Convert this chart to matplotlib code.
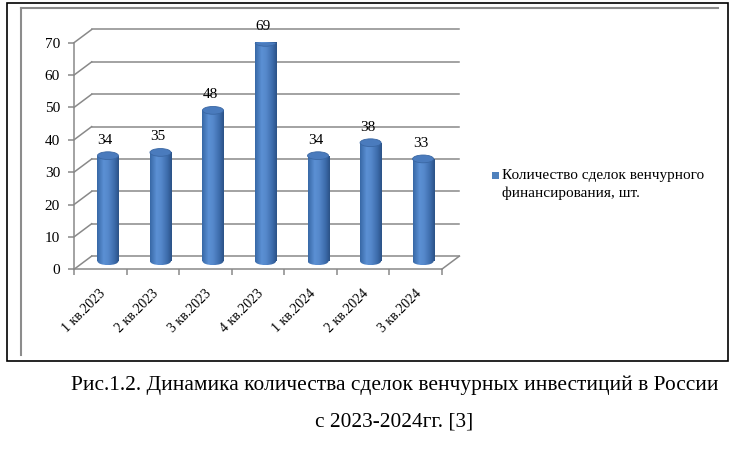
import numpy as np
import matplotlib
matplotlib.use('Agg')
import matplotlib.pyplot as plt
import matplotlib.transforms as mtransforms
from matplotlib.patches import Rectangle, Ellipse
from matplotlib.lines import Line2D
from matplotlib.colors import LinearSegmentedColormap

# data
quarters = ['1 кв.2023', '2 кв.2023', '3 кв.2023', '4 кв.2023',
            '1 кв.2024', '2 кв.2024', '3 кв.2024']
deals = [34, 35, 48, 69, 34, 38, 33]
y_ticks = [0, 10, 20, 30, 40, 50, 60, 70]
legend_lines = ['Количество сделок венчурного', 'финансирования, шт.']
caption_1 = 'Рис.1.2. Динамика количества сделок венчурных инвестиций в России'
caption_2 = 'с 2023-2024гг. [3]'

plt.rcParams['font.family'] = ['Liberation Serif', 'DejaVu Serif']

W, H = 730, 450
fig = plt.figure(figsize=(7.3, 4.5), dpi=100)


def fx(px):
    return px / W


def fy(py):
    return 1 - py / H


grid_c = '#898989'
n = len(quarters)
DX, DY = 0.337, 4.08       # fake depth of the 3d box
BW, EH = 0.40, 2.4          # cylinder width, cap height
XOFF, BASE, TOP_OFF = 0.146, 2.5, 1.1

ax = fig.add_axes([fx(74), fy(269.3), (441.7 - 74) / W, (269.3 - 42.7) / H])

# back wall + side wall lines
for v in y_ticks:
    ax.plot([DX, n + DX], [v + DY, v + DY], color=grid_c, lw=1.1, clip_on=False, zorder=1)
    ax.plot([0, DX], [v, v + DY], color=grid_c, lw=1.1, clip_on=False, zorder=1)
ax.plot([n, n + DX], [0, DY], color=grid_c, lw=1.1, clip_on=False, zorder=1)

# cylinders
cmap = LinearSegmentedColormap.from_list(
    'cyl', [(0, '#3868a6'), (0.3, '#5b90d4'), (0.5, '#5689cc'), (0.8, '#3d6cab'), (1, '#2b5287')])
grad = np.linspace(0, 1, 64).reshape(1, -1)

x_centers = np.arange(n) + 0.5 + XOFF
tops = np.array(deals) + TOP_OFF
bars = ax.bar(x_centers, tops - BASE, bottom=BASE, width=BW, color='none', lw=0, zorder=3)
for xc, top, bar, v in zip(x_centers, tops, bars, deals):
    xl, xr = xc - BW / 2, xc + BW / 2
    im = ax.imshow(grad, extent=(xl, xr, BASE, top), cmap=cmap, aspect='auto', zorder=3)
    im.set_clip_path(bar)
    bottom_cap = Ellipse((xc, BASE), BW, EH, fc='none', lw=0)
    ax.add_patch(bottom_cap)
    im2 = ax.imshow(grad, extent=(xl, xr, BASE - EH / 2, BASE + EH / 2), cmap=cmap, aspect='auto', zorder=3)
    im2.set_clip_path(bottom_cap)
    ax.add_patch(Ellipse((xc, top), BW, EH, fc='#4a7bbd', ec='#3a67a3', lw=0.6, zorder=4))
    ax.text(xc - 0.05, top + 4.8, str(v), ha='center', va='center', fontsize=11, zorder=5)

ax.set_xlim(0, n)
ax.set_ylim(0, 70)

for s in ['top', 'right']:
    ax.spines[s].set_visible(False)
for s in ['left', 'bottom']:
    ax.spines[s].set_color(grid_c)
    ax.spines[s].set_linewidth(1.1)
ax.patch.set_visible(False)

ax.set_yticks(y_ticks)
ax.tick_params(axis='y', length=4, width=1.1, color=grid_c, pad=6, labelsize=11)
ax.set_xticks(np.arange(n + 1))
ax.set_xticklabels([])
ax.tick_params(axis='x', length=4.5, width=1.1, color=grid_c)

offset = mtransforms.ScaledTranslation(-1 / 100, -18 / 100, fig.dpi_scale_trans)
for i, q in enumerate(quarters):
    ax.text(i + 0.5, 0, q, rotation=45, ha='right', va='top', rotation_mode='anchor',
            fontsize=10, transform=ax.transData + offset)

# chart frame
fig.add_artist(Rectangle((fx(7), fy(361)), fx(728) - fx(7), fy(3) - fy(361),
                         transform=fig.transFigure, fill=False, ec='black', lw=1.2))
fig.add_artist(Line2D([fx(21), fx(21)], [fy(355), fy(8)], color='#8c8c8c', lw=1.5))
fig.add_artist(Line2D([fx(21), fx(718)], [fy(8), fy(8)], color='#8c8c8c', lw=1.5))

# legend
fig.add_artist(Rectangle((fx(492), fy(178.5)), 7 / W, 7 / H, transform=fig.transFigure,
                         fc='#4f81bd', ec='none'))
fig.text(fx(502), fy(175), legend_lines[0], ha='left', va='center', fontsize=11)
fig.text(fx(502), fy(193), legend_lines[1], ha='left', va='center', fontsize=11)

# caption
fig.text(fx(394.5), fy(390), caption_1, ha='center', va='baseline', fontsize=15.4)
fig.text(fx(394), fy(427), caption_2, ha='center', va='baseline', fontsize=15.4)

fig.savefig('out.png', dpi=100)
